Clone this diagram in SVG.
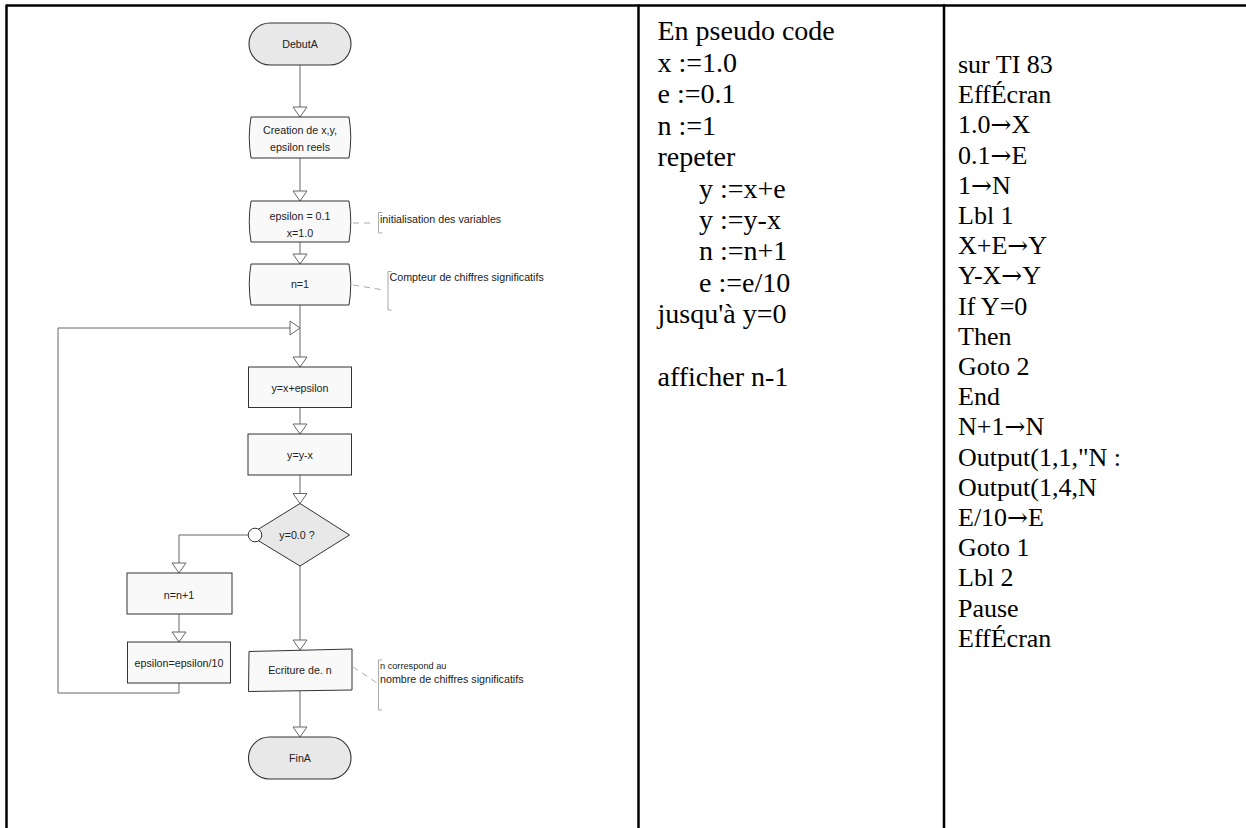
<svg xmlns="http://www.w3.org/2000/svg" width="1246" height="828" viewBox="0 0 1246 828">
<style>
.frame{stroke:#000;stroke-width:2.5;fill:none}
.proc{fill:#f9f9f9;stroke:#333;stroke-width:1}
.term{fill:#e8e8e8;stroke:#333;stroke-width:1.1}
.dec{fill:#e8e8e8;stroke:#333;stroke-width:1}
.lbl{font-family:"Liberation Sans",Arial,sans-serif;font-size:10.7px;fill:#222;text-anchor:middle}
.note{font-family:"Liberation Sans",Arial,sans-serif;font-size:10.7px;fill:#222}
.conn{fill:none;stroke:#666;stroke-width:1}
.dash{fill:none;stroke:#aaa;stroke-width:1;stroke-dasharray:6 5}
.brk{fill:none;stroke:#aaa;stroke-width:1}
.code{font-family:"Liberation Serif","Times New Roman",serif;fill:#000}
.p{font-size:28px}
.t{font-size:26px}
.ar{font-family:"DejaVu Serif",serif;font-size:25px}
</style>
<defs>
<marker id="arr" viewBox="-1 -8 12 16" refX="10" refY="0" markerWidth="12" markerHeight="16" markerUnits="userSpaceOnUse" orient="auto">
<path d="M0,-7 L10,0 L0,7 Z" fill="#fff" stroke="#666" stroke-width="1"/>
</marker>
</defs>
<rect width="1246" height="828" fill="#fff"/>
<g id="table">
<line class="frame" x1="6.5" y1="5.5" x2="1246" y2="5.5"/>
<line class="frame" x1="6.5" y1="4.5" x2="6.5" y2="828"/>
<line class="frame" x1="638.5" y1="4.5" x2="638.5" y2="828"/>
<line class="frame" x1="944" y1="4.5" x2="944" y2="828"/>
</g>
<g id="connectors">
<path class="conn" d="M300,65 L300,117" marker-end="url(#arr)"/>
<path class="conn" d="M300,158 L300,201" marker-end="url(#arr)"/>
<path class="conn" d="M300,242 L300,264" marker-end="url(#arr)"/>
<path class="conn" d="M300,305 L300,367" marker-end="url(#arr)"/>
<path class="conn" d="M179,683 L179,693 L58,693 L58,328 L300,328" marker-end="url(#arr)"/>
<path class="conn" d="M300,407 L300,434" marker-end="url(#arr)"/>
<path class="conn" d="M300,475 L300,503.5" marker-end="url(#arr)"/>
<path class="conn" d="M248.5,535 L179,535 L179,573" marker-end="url(#arr)"/>
<path class="conn" d="M179,614 L179,642" marker-end="url(#arr)"/>
<path class="conn" d="M300,566 L300,650" marker-end="url(#arr)"/>
<path class="conn" d="M300,690.5 L300,737" marker-end="url(#arr)"/>
</g>
<g id="debut">
<rect class="term" x="249" y="23" width="102" height="42" rx="21" ry="21"/>
<text class="lbl" x="300" y="47.5">DebutA</text>
</g>
<g id="creation">
<path class="proc" d="M251,117 L349,117 Q352.5,137.5 349,158 L251,158 Q247.5,137.5 251,117 Z"/>
<text class="lbl" x="300" y="133.5">Creation de x,y,</text>
<text class="lbl" x="300" y="151">epsilon reels</text>
</g>
<g id="init">
<path class="proc" d="M251,201 L349,201 Q352.5,221.5 349,242 L251,242 Q247.5,221.5 251,201 Z"/>
<text class="lbl" x="300" y="220">epsilon = 0.1</text>
<text class="lbl" x="300" y="237">x=1.0</text>
</g>
<g id="note-init">
<path class="dash" d="M353,223 L373,223"/>
<path class="brk" d="M382.5,212.5 L378.5,212.5 L378.5,233 L382.5,233"/>
<text class="note" x="380" y="223">initialisation des variables</text>
</g>
<g id="n1">
<path class="proc" d="M251,264 L349,264 Q352.5,284.5 349,305 L251,305 Q247.5,284.5 251,264 Z"/>
<text class="lbl" x="300" y="288">n=1</text>
</g>
<g id="note-n1">
<path class="dash" d="M353,285 L384,290"/>
<path class="brk" d="M391.5,271.5 L388,271.5 L388,310 L391.5,310"/>
<text class="note" x="389.5" y="281">Compteur de chiffres significatifs</text>
</g>
<g id="yxe">
<rect class="proc" x="248.5" y="367" width="103" height="40.5"/>
<text class="lbl" x="300" y="391.5">y=x+epsilon</text>
</g>
<g id="yyx">
<rect class="proc" x="248" y="434" width="103.5" height="41"/>
<text class="lbl" x="300" y="458.5">y=y-x</text>
</g>
<g id="test">
<path class="dec" d="M300,503.5 L349.5,535 L300,566 L249,535 Z"/>
<circle cx="255" cy="535" r="6.8" fill="#fff" stroke="#333" stroke-width="1"/>
<text class="lbl" x="297" y="538.5">y=0.0 ?</text>
</g>
<g id="incn">
<rect class="proc" x="127" y="573" width="105" height="41"/>
<text class="lbl" x="179" y="598.5">n=n+1</text>
</g>
<g id="diveps">
<rect class="proc" x="127.5" y="642" width="103" height="41"/>
<text class="lbl" x="179" y="667">epsilon=epsilon/10</text>
</g>
<g id="ecriture">
<path class="proc" d="M249,651.5 L352,649 L352,690 L248.5,691.5 Z"/>
<text class="lbl" x="300" y="674">Ecriture de. n</text>
</g>
<g id="note-ecr">
<path class="dash" d="M353,667 L377,683"/>
<path class="brk" d="M382,660 L378.5,660 L378.5,710 L382,710"/>
<text class="note" x="380" y="669" style="font-size:9.2px">n correspond au</text>
<text class="note" x="380" y="683">nombre de chiffres significatifs</text>
</g>
<g id="fin">
<rect class="term" x="248.5" y="737" width="102.5" height="42" rx="21" ry="21"/>
<text class="lbl" x="300" y="761.5">FinA</text>
</g>
<g id="pseudo" class="code p">
<text x="657.5" y="40">En pseudo code</text>
<text x="657.5" y="72">x :=1.0</text>
<text x="657.5" y="103.4">e :=0.1</text>
<text x="657.5" y="134.8">n :=1</text>
<text x="657.5" y="166.2">repeter</text>
<text x="699" y="197.6">y :=x+e</text>
<text x="699" y="229">y :=y-x</text>
<text x="699" y="260.4">n :=n+1</text>
<text x="699" y="291.8">e :=e/10</text>
<text x="657.5" y="323.2">jusqu'à y=0</text>
<text x="657.5" y="386">afficher n-1</text>
</g>
<g id="ti83" class="code t">
<text x="958" y="73">sur TI 83</text>
<text x="958" y="103.2">EffÉcran</text>
<text x="958" y="133.4">1.0<tspan class="ar">→</tspan>X</text>
<text x="958" y="163.6">0.1<tspan class="ar">→</tspan>E</text>
<text x="958" y="193.8">1<tspan class="ar">→</tspan>N</text>
<text x="958" y="224">Lbl 1</text>
<text x="958" y="254.2">X+E<tspan class="ar">→</tspan>Y</text>
<text x="958" y="284.4">Y-X<tspan class="ar">→</tspan>Y</text>
<text x="958" y="314.6">If Y=0</text>
<text x="958" y="344.8">Then</text>
<text x="958" y="375">Goto 2</text>
<text x="958" y="405.2">End</text>
<text x="958" y="435.4">N+1<tspan class="ar">→</tspan>N</text>
<text x="958" y="465.6">Output(1,1,"N :</text>
<text x="958" y="495.8">Output(1,4,N</text>
<text x="958" y="526">E/10<tspan class="ar">→</tspan>E</text>
<text x="958" y="556.2">Goto 1</text>
<text x="958" y="586.4">Lbl 2</text>
<text x="958" y="616.6">Pause</text>
<text x="958" y="646.8">EffÉcran</text>
</g>
</svg>
